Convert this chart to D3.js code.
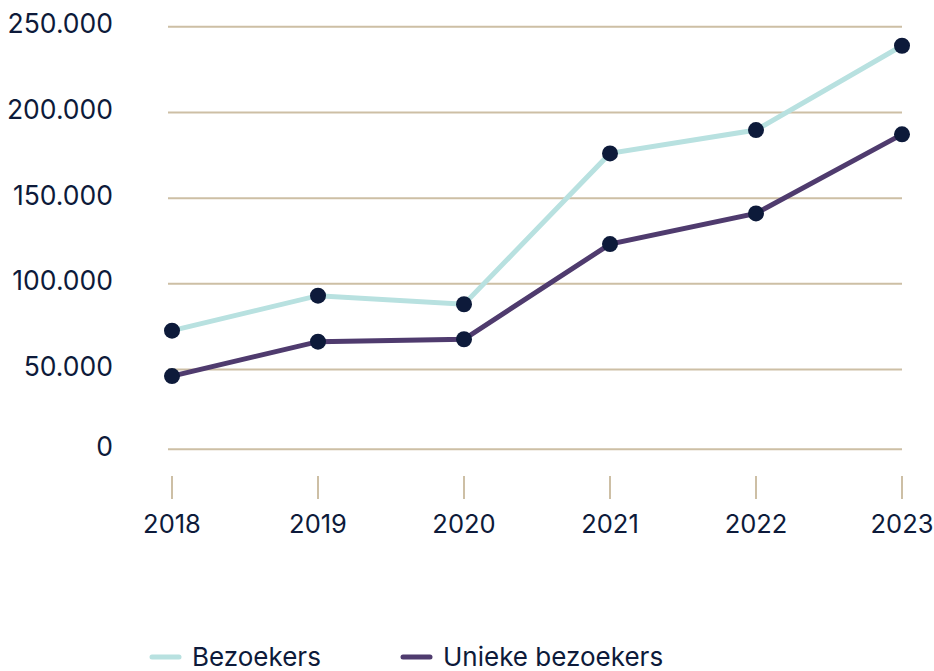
<!DOCTYPE html>
<html>
<head>
<meta charset="utf-8">
<script src="https://cdn.jsdelivr.net/npm/d3@7"></script>
<style>
  body { margin: 0; background: #fff; }
  text { font-family: Inter, "Noto Sans", sans-serif; fill: #0d1a3a; }
</style>
</head>
<body>
<div id="chart"></div>
<script>
const years = ['2018', '2019', '2020', '2021', '2022', '2023'];
const bezoekers = [72700, 93100, 88100, 176100, 189700, 238900];
const uniekeBezoekers = [46200, 66300, 67700, 123200, 141100, 187200];
const yTicks = [0, 50000, 100000, 150000, 200000, 250000];
const seriesNames = ['Bezoekers', 'Unieke bezoekers'];
const seriesColors = ['#b8e1e0', '#4f3b6e'];

const width = 934, height = 671;

const svg = d3.select('#chart').append('svg')
  .attr('width', width)
  .attr('height', height);

const x = d3.scalePoint()
  .domain(years)
  .range([172, 902]);

const y = d3.scaleLinear()
  .domain([0, 250000])
  .range([455.3, 26.7]);

// Nederlandse notatie: punt als duizendtal-scheiding
const nl = d3.formatLocale({ decimal: ',', thousands: '.', grouping: [3], currency: ['€', ''] });
const fmt = nl.format(',');

// het nullijntje staat iets hoger dan de schaal zou zeggen
const gridY = d => d === 0 ? y(0) - 6 : y(d);

// rasterlijnen
svg.append('g')
  .selectAll('line')
  .data(yTicks)
  .join('line')
  .attr('x1', 168)
  .attr('x2', 902)
  .attr('y1', gridY)
  .attr('y2', gridY)
  .attr('stroke', '#cdbfa5')
  .attr('stroke-width', 2);

// y-labels
svg.append('g')
  .selectAll('text')
  .data(yTicks)
  .join('text')
  .attr('x', 113)
  .attr('y', d => gridY(d) + 6.5)
  .attr('text-anchor', 'end')
  .attr('font-size', 26.5)
  .text(d => fmt(d));

// x-as streepjes en labels
const xg = svg.append('g');
xg.selectAll('line')
  .data(years)
  .join('line')
  .attr('x1', d => x(d))
  .attr('x2', d => x(d))
  .attr('y1', 476)
  .attr('y2', 499)
  .attr('stroke', '#cdbfa5')
  .attr('stroke-width', 2);

xg.selectAll('text')
  .data(years)
  .join('text')
  .attr('x', d => x(d))
  .attr('y', 533)
  .attr('text-anchor', 'middle')
  .attr('font-size', 25.5)
  .text(d => d);

// lijnen
const line = d3.line()
  .x((d, i) => x(years[i]))
  .y(d => y(d));

const series = [bezoekers, uniekeBezoekers];

svg.append('g')
  .selectAll('path')
  .data(series)
  .join('path')
  .attr('d', line)
  .attr('fill', 'none')
  .attr('stroke', (d, i) => seriesColors[i])
  .attr('stroke-width', 5);

// punten
series.forEach(values => {
  svg.append('g')
    .selectAll('circle')
    .data(values)
    .join('circle')
    .attr('cx', (d, i) => x(years[i]))
    .attr('cy', d => y(d))
    .attr('r', 8)
    .attr('fill', '#0d1a3a');
});

// legenda
const legendX = [152, 403];
const legend = svg.append('g')
  .selectAll('g')
  .data(seriesNames)
  .join('g')
  .attr('transform', (d, i) => `translate(${legendX[i]}, 657)`);

legend.append('line')
  .attr('x1', 0)
  .attr('x2', 27)
  .attr('stroke', (d, i) => seriesColors[i])
  .attr('stroke-width', 5)
  .attr('stroke-linecap', 'round');

legend.append('text')
  .attr('x', 40)
  .attr('y', 9)
  .attr('font-size', 26)
  .text(d => d);
</script>
</body>
</html>
